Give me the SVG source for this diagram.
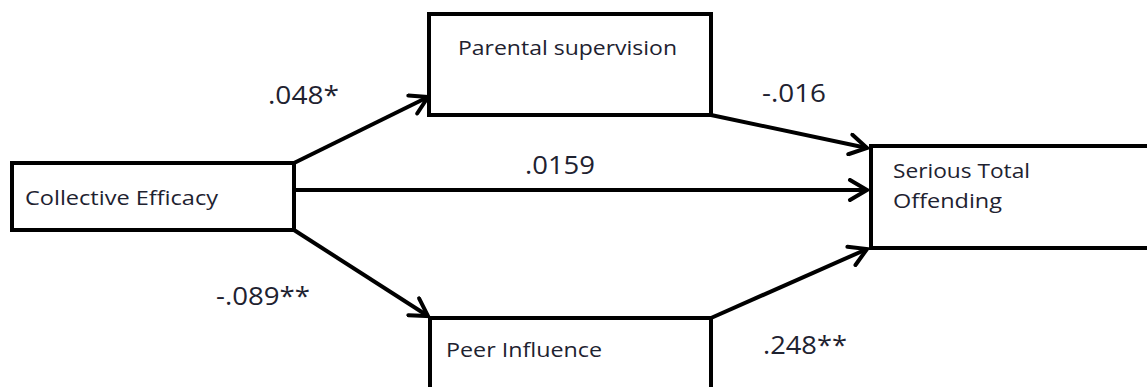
<svg xmlns="http://www.w3.org/2000/svg" width="1147" height="387" viewBox="0 0 1147 387">
<style>
.box{fill:#fff;stroke:#000;stroke-width:4}
.nt{font-family:"Open Sans","Liberation Sans",sans-serif;font-size:20px;fill:#1e2230}
.lb{font-family:"Open Sans","Liberation Sans",sans-serif;font-size:25px;fill:#1e2230}
.cn{stroke:#000;stroke-width:4;fill:none}
</style>
<defs>
<marker id="ah" viewBox="0 0 24 24" refX="20" refY="12" markerWidth="24" markerHeight="24" markerUnits="userSpaceOnUse" orient="auto">
<path d="M3,2 L20,12 L3,22" fill="none" stroke="#000" stroke-width="4" stroke-linecap="round"/>
</marker>
</defs>
<rect width="1147" height="387" fill="#fff"/>
<g id="connectors">
<line class="cn" x1="294" y1="163" x2="428" y2="97" marker-end="url(#ah)"/>
<line class="cn" x1="711" y1="115" x2="867" y2="148" marker-end="url(#ah)"/>
<line class="cn" x1="296" y1="190" x2="867" y2="190" marker-end="url(#ah)"/>
<line class="cn" x1="294" y1="230" x2="428" y2="316" marker-end="url(#ah)"/>
<line class="cn" x1="711" y1="318" x2="867" y2="249" marker-end="url(#ah)"/>
</g>
<g id="node-collective-efficacy">
<rect class="box" x="12" y="163" width="282" height="67"/>
<text class="nt" x="25" y="205" textLength="193" lengthAdjust="spacingAndGlyphs">Collective Efficacy</text>
</g>
<g id="node-parental-supervision">
<rect class="box" x="429" y="14" width="282" height="101"/>
<text class="nt" x="458" y="55" textLength="219" lengthAdjust="spacingAndGlyphs">Parental supervision</text>
</g>
<g id="node-serious-total-offending">
<rect class="box" x="871" y="146" width="300" height="102"/>
<text class="nt" x="893" y="178" textLength="137" lengthAdjust="spacingAndGlyphs">Serious Total</text>
<text class="nt" x="893" y="208" textLength="109" lengthAdjust="spacingAndGlyphs">Offending</text>
</g>
<g id="node-peer-influence">
<rect class="box" x="430" y="318" width="281" height="90"/>
<text class="nt" x="446" y="357" textLength="156" lengthAdjust="spacingAndGlyphs">Peer Influence</text>
</g>
<g id="labels">
<text class="lb" x="268" y="104" textLength="71" lengthAdjust="spacingAndGlyphs">.048*</text>
<text class="lb" x="762" y="102" textLength="64" lengthAdjust="spacingAndGlyphs">-.016</text>
<text class="lb" x="525" y="174" textLength="70" lengthAdjust="spacingAndGlyphs">.0159</text>
<text class="lb" x="216" y="305" textLength="94" lengthAdjust="spacingAndGlyphs">-.089**</text>
<text class="lb" x="763" y="354" textLength="84" lengthAdjust="spacingAndGlyphs">.248**</text>
</g>
</svg>
